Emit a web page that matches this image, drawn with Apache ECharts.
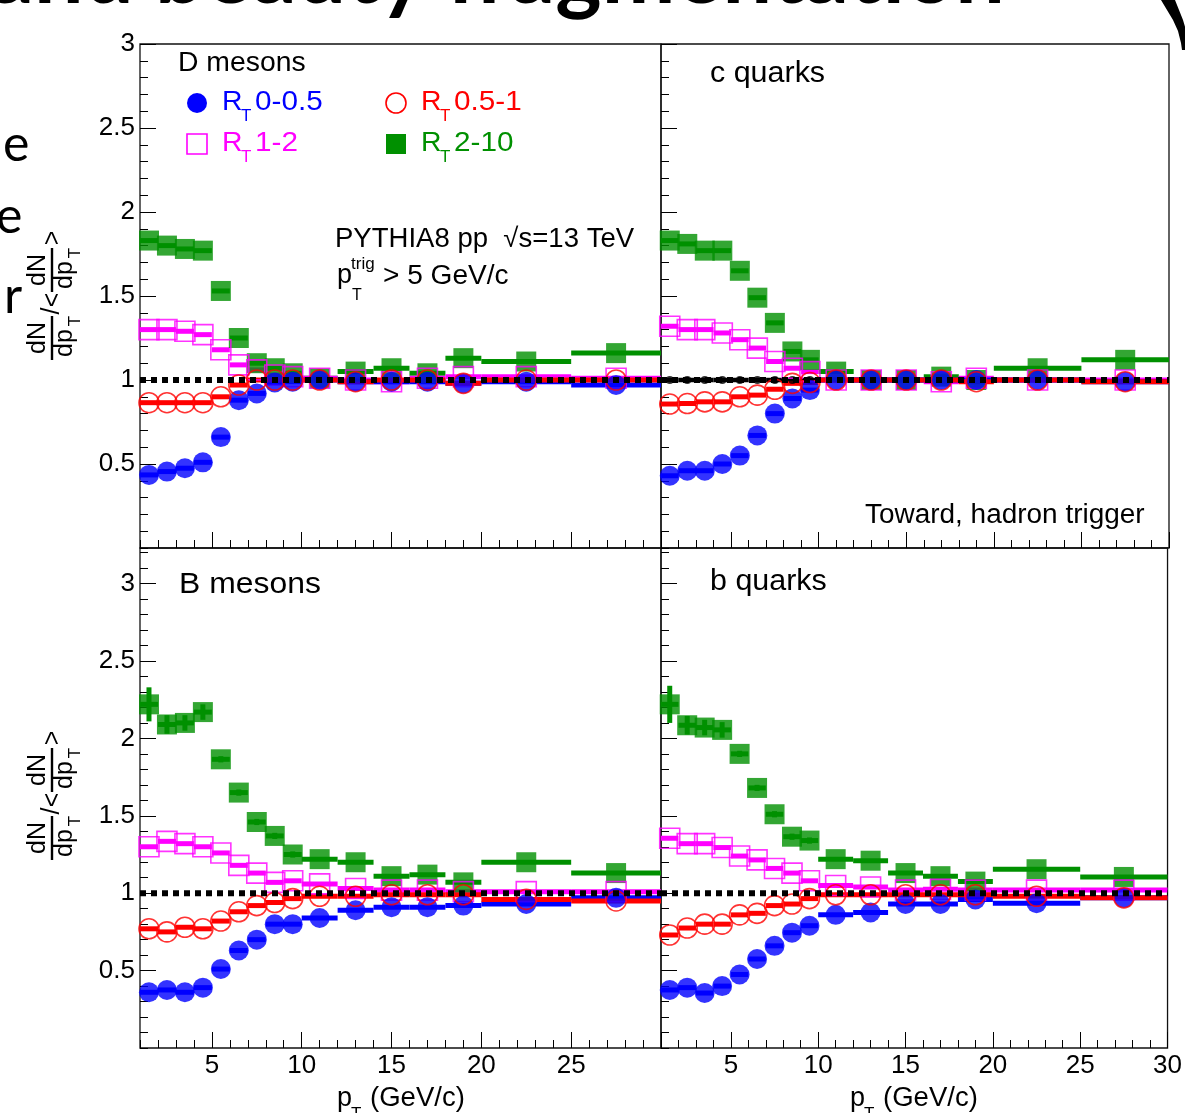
<!DOCTYPE html>
<html>
<head>
<meta charset="utf-8">
<title>Charm and beauty fragmentation</title>
<script src="https://cdn.jsdelivr.net/npm/echarts@6.0.0/dist/echarts.min.js"></script>
<style>
html,body{margin:0;padding:0;background:#ffffff;overflow:hidden;}
#chart{width:1185px;height:1113px;}
</style>
</head>
<body>
<div id="chart"></div>
<script>
// ---------------- data ----------------
const binLow    = [1, 2, 3, 4, 5, 6, 7, 8, 9, 10, 12, 14, 16, 18, 20, 25];
const binHigh   = [2, 3, 4, 5, 6, 7, 8, 9, 10, 12, 14, 16, 18, 20, 25, 30];
const binCenter = [1.5, 2.5, 3.5, 4.5, 5.5, 6.5, 7.5, 8.5, 9.5, 11, 13, 15, 17, 19, 22.5, 27.5];

const rtClasses = ['0-0.5', '0.5-1', '1-2', '2-10'];
const panelNames = ['D mesons', 'c quarks', 'B mesons', 'b quarks'];

// D mesons
const dMesonsRT0  = [0.435, 0.455, 0.475, 0.51, 0.66, 0.88, 0.92, 0.985, 0.99, 1.0, 0.99, 0.99, 0.99, 0.98, 0.99, 0.97];
const dMesonsRT05 = [0.865, 0.865, 0.865, 0.865, 0.90, 0.97, 1.0, 1.0, 1.0, 1.0, 0.99, 1.0, 1.0, 0.98, 1.0, 1.0];
const dMesonsRT1  = [1.30, 1.30, 1.29, 1.27, 1.18, 1.09, 1.06, 1.03, 1.02, 1.01, 1.0, 0.99, 1.01, 1.02, 1.02, 1.01];
const dMesonsRT2  = [1.83, 1.80, 1.78, 1.77, 1.53, 1.25, 1.10, 1.07, 1.04, 1.01, 1.05, 1.07, 1.04, 1.13, 1.11, 1.16];
// c quarks
const cQuarksRT0  = [0.43, 0.46, 0.46, 0.50, 0.55, 0.67, 0.80, 0.89, 0.94, 1.0, 1.0, 1.0, 1.0, 1.0, 1.0, 0.99];
const cQuarksRT05 = [0.857, 0.86, 0.87, 0.87, 0.90, 0.91, 0.945, 0.98, 0.985, 1.0, 1.0, 1.0, 1.0, 0.99, 1.0, 0.99];
const cQuarksRT1  = [1.32, 1.30, 1.30, 1.28, 1.24, 1.19, 1.11, 1.07, 1.05, 1.0, 1.0, 1.0, 0.99, 1.01, 1.0, 1.0];
const cQuarksRT2  = [1.83, 1.81, 1.77, 1.77, 1.65, 1.49, 1.34, 1.17, 1.12, 1.05, 1.0, 1.0, 1.02, 1.0, 1.07, 1.12];
const cQuarksAll  = [1, 1, 1, 1, 1, 1, 1, 1, 1];   // inclusive reference points, first 9 bins
// B mesons
const bMesonsRT0  = [0.36, 0.375, 0.36, 0.39, 0.51, 0.63, 0.70, 0.80, 0.80, 0.84, 0.89, 0.91, 0.91, 0.92, 0.93, 0.97];
const bMesonsRT05 = [0.77, 0.75, 0.78, 0.77, 0.82, 0.88, 0.92, 0.94, 0.965, 0.98, 0.98, 0.99, 0.99, 0.99, 0.96, 0.95];
const bMesonsRT1  = [1.30, 1.335, 1.32, 1.30, 1.26, 1.18, 1.13, 1.07, 1.08, 1.06, 1.03, 1.02, 1.02, 1.01, 1.01, 1.01];
const bMesonsRT2  = [2.22, 2.09, 2.10, 2.17, 1.865, 1.65, 1.46, 1.37, 1.25, 1.22, 1.20, 1.11, 1.12, 1.07, 1.20, 1.13];
const bMesonsRT2Err = [0.11, 0.06, 0.05, 0.05, 0.02, 0.02, 0.02, 0.02, 0.02, 0.01, 0.01, 0.01, 0.01, 0.01, 0.01, 0.01];
// b quarks
const bQuarksRT0  = [0.375, 0.39, 0.355, 0.40, 0.475, 0.575, 0.66, 0.745, 0.79, 0.86, 0.875, 0.93, 0.93, 0.96, 0.935, 0.97];
const bQuarksRT05 = [0.73, 0.775, 0.80, 0.80, 0.86, 0.87, 0.92, 0.93, 0.965, 0.99, 0.99, 0.99, 0.99, 0.99, 0.98, 0.97];
const bQuarksRT1  = [1.355, 1.32, 1.32, 1.295, 1.24, 1.215, 1.16, 1.13, 1.08, 1.05, 1.04, 1.02, 1.025, 1.02, 1.02, 1.02];
const bQuarksRT2  = [2.22, 2.085, 2.07, 2.055, 1.90, 1.68, 1.51, 1.365, 1.34, 1.22, 1.21, 1.13, 1.11, 1.075, 1.155, 1.105];
const bQuarksRT2Err = [0.12, 0.06, 0.05, 0.05, 0.02, 0.02, 0.02, 0.02, 0.02, 0.01, 0.01, 0.01, 0.01, 0.01, 0.01, 0.01];

const noErr = [0, 0, 0, 0, 0, 0, 0, 0, 0, 0, 0, 0, 0, 0, 0, 0];

// axes
const xRange = [1, 30];
const yRangeTop = [0, 3];
const yRangeBottom = [0, 3.23];
const xTickValues = [5, 10, 15, 20, 25, 30];
const xLabelsLeft = [5, 10, 15, 20, 25];
const xLabelsRight = [5, 10, 15, 20, 25, 30];
const yTickValues = [0.5, 1, 1.5, 2, 2.5, 3];
const yLabelValues = [0.5, 1, 1.5, 2, 2.5, 3];
const referenceLevel = 1;

// ---------------- build ----------------
const FONT = '"Liberation Sans", Arial, Helvetica, sans-serif';
const SLIDE_FONT = 'Lato, "Open Sans", sans-serif';
const COL = { blue: '#0000ff', red: '#ff0000', magenta: '#ff00ff', green: '#009000' };

const panelValues = [
  [dMesonsRT0, dMesonsRT05, dMesonsRT1, dMesonsRT2],
  [cQuarksRT0, cQuarksRT05, cQuarksRT1, cQuarksRT2],
  [bMesonsRT0, bMesonsRT05, bMesonsRT1, bMesonsRT2],
  [bQuarksRT0, bQuarksRT05, bQuarksRT1, bQuarksRT2]
];
const panelErrors = [
  [noErr, noErr, noErr, noErr],
  [noErr, noErr, noErr, noErr],
  [noErr, noErr, noErr, bMesonsRT2Err],
  [noErr, noErr, noErr, bQuarksRT2Err]
];

const grids = [
  { left: 140, top: 44, width: 521, height: 504 },
  { left: 661, top: 44, width: 508, height: 504 },
  { left: 140, top: 548, width: 521, height: 500 },
  { left: 661, top: 548, width: 508, height: 500 }
];

const classStyle = [
  { color: COL.blue, symbol: 'circle', filled: true },
  { color: COL.red, symbol: 'circle', filled: false },
  { color: COL.magenta, symbol: 'rect', filled: false },
  { color: COL.green, symbol: 'rect', filled: true }
];
const drawOrder = [3, 2, 0, 1];

function errRender(color, lw) {
  return function (params, api) {
    const lo = api.value(0), hi = api.value(1), v = api.value(2), e = api.value(3);
    const p1 = api.coord([lo, v]), p2 = api.coord([hi, v]);
    const children = [{
      type: 'line', shape: { x1: p1[0], y1: p1[1], x2: p2[0], y2: p2[1] },
      style: { stroke: color, lineWidth: lw }
    }];
    if (e > 0) {
      const xm = api.coord([(lo + hi) / 2, v])[0];
      const t = api.coord([(lo + hi) / 2, v + e])[1];
      const b = api.coord([(lo + hi) / 2, v - e])[1];
      children.push({ type: 'line', shape: { x1: xm, y1: t, x2: xm, y2: b }, style: { stroke: color, lineWidth: lw } });
    }
    return { type: 'group', children: children };
  };
}

const option = {
  animation: false,
  backgroundColor: '#ffffff',
  grid: grids.map(g => Object.assign({ show: true, borderColor: '#111', borderWidth: 1.3, backgroundColor: 'transparent' }, g)),
  xAxis: [], yAxis: [], series: [], graphic: []
};

grids.forEach((g, p) => {
  const isBottom = p >= 2, isLeft = p % 2 === 0;
  option.xAxis.push({
    type: 'value', gridIndex: p, position: 'bottom', min: xRange[0], max: xRange[1],
    axisLine: { show: false }, splitLine: { show: false },
    axisTick: { show: true, inside: true, length: 16, customValues: xTickValues, lineStyle: { color: '#000', width: 1 } },
    axisLabel: { show: isBottom, customValues: isLeft ? xLabelsLeft : xLabelsRight, fontSize: 26, fontFamily: FONT, color: '#000', margin: 5 }
  });
  option.xAxis.push({
    type: 'value', gridIndex: p, position: 'bottom', min: xRange[0], max: xRange[1], interval: 1,
    axisLine: { show: false }, splitLine: { show: false }, axisLabel: { show: false },
    axisTick: { show: true, inside: true, length: 8, lineStyle: { color: '#000', width: 1 } }
  });
  const yr = isBottom ? yRangeBottom : yRangeTop;
  option.yAxis.push({
    type: 'value', gridIndex: p, position: 'left', min: yr[0], max: yr[1],
    axisLine: { show: false }, splitLine: { show: false },
    axisTick: { show: true, inside: true, length: 16, customValues: yTickValues, lineStyle: { color: '#000', width: 1 } },
    axisLabel: { show: isLeft, customValues: yLabelValues, fontSize: 26, fontFamily: FONT, color: '#000', margin: 5 }
  });
  option.yAxis.push({
    type: 'value', gridIndex: p, position: 'left', min: yr[0], max: yr[1], interval: 0.1,
    axisLine: { show: false }, splitLine: { show: false }, axisLabel: { show: false },
    axisTick: { show: true, inside: true, length: 8, lineStyle: { color: '#000', width: 1 } }
  });

  const xi = 2 * p, yi = 2 * p;
  option.series.push({
    type: 'line', xAxisIndex: xi, yAxisIndex: yi, symbol: 'none', silent: true,
    data: [[xRange[0], referenceLevel], [xRange[1], referenceLevel]],
    lineStyle: { color: '#000', width: 6, type: [6, 5] }
  });
  if (p === 1) {
    option.series.push({
      type: 'custom', xAxisIndex: xi, yAxisIndex: yi, clip: false, silent: true,
      renderItem: errRender('#000', 4.5),
      encode: { x: [0, 1], y: 2 },
      data: cQuarksAll.map((v, i) => [binLow[i], binHigh[i], v, 0])
    });
    option.series.push({
      type: 'scatter', xAxisIndex: xi, yAxisIndex: yi, clip: false, silent: true,
      symbol: 'circle', symbolSize: 8, itemStyle: { color: '#000' },
      data: cQuarksAll.map((v, i) => [binCenter[i], v])
    });
  }
  drawOrder.forEach(k => {
    const st = classStyle[k];
    const vals = panelValues[p][k];
    const errs = panelErrors[p][k];
    option.series.push({
      type: 'custom', name: 'RT ' + rtClasses[k], xAxisIndex: xi, yAxisIndex: yi, clip: false, silent: true,
      renderItem: errRender(st.color, 5),
      encode: { x: [0, 1], y: 2 },
      data: vals.map((v, i) => [binLow[i], binHigh[i], v, errs[i]])
    });
    option.series.push({
      type: 'scatter', name: 'RT ' + rtClasses[k], xAxisIndex: xi, yAxisIndex: yi, clip: false, silent: true,
      symbol: st.symbol, symbolSize: 20,
      itemStyle: st.filled ? { color: st.color, borderWidth: 0 } : { color: 'rgba(0,0,0,0)', borderColor: st.color, borderWidth: 1.6 },
      data: vals.map((v, i) => [binCenter[i], v])
    });
  });
});

// ---------------- text / decorations ----------------
function T(x, y, text, size, color, opts) {
  opts = opts || {};
  const el = {
    type: 'text', x: x, y: y, z: 100, silent: true,
    style: {
      text: text, fill: color || '#000', font: (opts.weight ? opts.weight + ' ' : '') + size + 'px ' + (opts.family || FONT),
      align: opts.align || 'left', verticalAlign: opts.va || 'middle',
      textAlign: opts.align || 'left', textVerticalAlign: opts.va || 'middle'
    }
  };
  if (opts.sx) el.scaleX = opts.sx;
  return el;
}

const g = option.graphic;
// slide background pieces (cropped)
g.push(T(1005, -69, 'and beauty fragmentation', 88, '#000', { family: SLIDE_FONT, weight: 'bold', align: 'right', va: 'top' }));
g.push(T(3, 120, 'e', 50, '#000', { family: SLIDE_FONT, va: 'top' }));
g.push(T(-4, 192, 'e', 50, '#000', { family: SLIDE_FONT, va: 'top' }));
g.push(T(4, 272, 'r', 50, '#000', { family: SLIDE_FONT, va: 'top' }));
g.push({
  type: 'polygon', z: 100, silent: true,
  shape: { points: [[1161, 0], [1167, 10], [1173, 20], [1178, 31], [1181, 43], [1182, 50], [1186, 50], [1186, 30], [1183, 20], [1179, 10], [1175, 0]] },
  style: { fill: '#000' }
});

// panel labels
g.push(T(178, 64, panelNames[0], 27, '#000', { sx: 1.05 }));
g.push(T(710, 74, panelNames[1], 29, '#000', { sx: 1.05 }));
g.push(T(179, 585, panelNames[2], 29, '#000', { sx: 1.1 }));
g.push(T(710, 582, panelNames[3], 29, '#000', { sx: 1.05 }));
g.push(T(865, 516, 'Toward, hadron trigger', 27, '#000', { sx: 1.035 }));

// legend
const legendPos = [[197, 103], [396, 103], [197, 144], [396, 144]];
[0, 1, 2, 3].forEach(k => {
  const st = classStyle[k];
  const [cx, cy] = legendPos[k];
  if (st.symbol === 'circle') {
    g.push({ type: 'circle', z: 100, silent: true, shape: { cx: cx, cy: cy, r: 10 },
      style: st.filled ? { fill: st.color } : { fill: 'none', stroke: st.color, lineWidth: 1.6 } });
  } else {
    g.push({ type: 'rect', z: 100, silent: true, shape: { x: cx - 10, y: cy - 10, width: 20, height: 20 },
      style: st.filled ? { fill: st.color } : { fill: 'none', stroke: st.color, lineWidth: 1.6 } });
  }
  const tx = cx + 25, ty = cy;
  g.push(T(tx, ty, 'R', 27, st.color, { sx: 1.05 }));
  g.push(T(tx + 19, ty + 13, 'T', 17, st.color));
  g.push(T(tx + 33, ty, rtClasses[k], 27, st.color, { sx: 1.1 }));
});

// PYTHIA label
g.push(T(335, 240, 'PYTHIA8 pp  \u221As=13 TeV', 27, '#000', { sx: 1.02 }));
g.push(T(337, 276, 'p', 27, '#000'));
g.push(T(351, 264, 'trig', 17, '#000'));
g.push(T(352, 296, 'T', 16, '#000'));
g.push(T(383, 277, '> 5 GeV/c', 27, '#000', { sx: 1.04 }));

// x axis titles
[[337, 1099], [850, 1099]].forEach(([x, y]) => {
  g.push(T(x, y, 'p', 27, '#000'));
  g.push(T(x + 14, y + 15, 'T', 17, '#000'));
  g.push(T(x + 33, y, '(GeV/c)', 27, '#000', { sx: 1.02 }));
});

// y axis titles (rotated)
function frac(c) {
  return [
    T(c, -14, 'dN', 25, '#000', { align: 'center' }),
    { type: 'line', silent: true, shape: { x1: c - 22, y1: 0, x2: c + 22, y2: 0 }, style: { stroke: '#000', lineWidth: 2.4 } },
    T(c - 5, 13, 'dp', 25, '#000', { align: 'center' }),
    T(c + 17, 23, 'T', 17, '#000', { align: 'center' })
  ];
}
[300, 800].forEach(cy => {
  const children = [].concat(
    frac(-38),
    [T(-11, 0, '/', 25, '#000', { align: 'center' }),
     T(0, 1, '<', 25, '#000', { align: 'center' })],
    frac(30),
    [T(62, 1, '>', 25, '#000', { align: 'center' })]
  );
  g.push({ type: 'group', x: 52, y: cy, rotation: Math.PI / 2, z: 100, silent: true, children: children });
});

const chart = echarts.init(document.getElementById('chart'), null, { renderer: 'canvas' });
chart.setOption(option);
</script>
</body>
</html>
